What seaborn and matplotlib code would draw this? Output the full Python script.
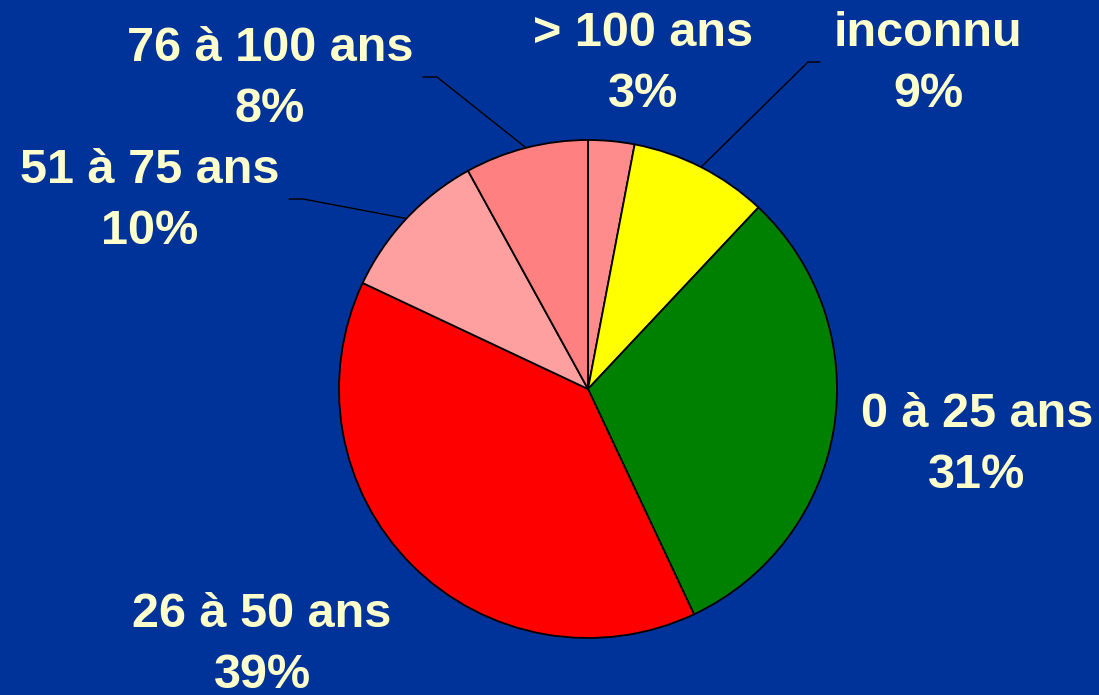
import numpy as np
import matplotlib
matplotlib.use("Agg")
import matplotlib.pyplot as plt
import seaborn as sns

# ==================================================
# DATA
# ==================================================

categories = [
    "> 100 ans",
    "inconnu",
    "0 à 25 ans",
    "26 à 50 ans",
    "51 à 75 ans",
    "76 à 100 ans",
]

shares = [3, 9, 31, 39, 10, 8]

slice_colors = [
    "#FF8C8C",
    "#FFFF00",
    "#008000",
    "#FF0000",
    "#FFA0A0",
    "#FF8080",
]

# ==================================================
# STYLE
# ==================================================

BG = "#003399"
TXT = "#FFFFCC"

sns.set_style("white")
plt.rcParams["font.family"] = ["Liberation Sans", "DejaVu Sans"]

W, H = 1099, 695
CENTER = (588, H - 389)
RADIUS = 249

fig = plt.figure(figsize=(W / 100, H / 100), dpi=100, facecolor=BG)
ax = fig.add_axes([0, 0, 1, 1])
ax.set_facecolor(BG)

wedges, _ = ax.pie(
    shares,
    colors=slice_colors,
    startangle=90,
    counterclock=False,
    center=CENTER,
    radius=RADIUS,
    wedgeprops=dict(edgecolor="black", linewidth=1.3),
)

ax.set_xlim(0, W)
ax.set_ylim(0, H)
ax.set_aspect("equal")
ax.axis("off")

# label anchors (pixel space, y from top) and leader elbows
label_pos = {
    "> 100 ans": (643, 64),
    "inconnu": (928, 64),
    "0 à 25 ans": (977, 445),
    "26 à 50 ans": (262, 645),
    "51 à 75 ans": (150, 201),
    "76 à 100 ans": (270, 79),
}

leaders = {
    "inconnu": ((820, 62), (808, 62)),
    "51 à 75 ans": ((289, 199), (303, 199)),
    "76 à 100 ans": ((423, 77), (437, 77)),
}

for cat, val, w in zip(categories, shares, wedges):
    lx, ly = label_pos[cat]
    ax.text(
        lx, H - ly,
        f"{cat}\n{val}%",
        ha="center", va="center",
        color=TXT, fontsize=35, fontweight="bold",
        linespacing=1.44,
    )
    if cat in leaders:
        mid = np.deg2rad((w.theta1 + w.theta2) / 2)
        ex = CENTER[0] + RADIUS * np.cos(mid)
        ey = CENTER[1] + RADIUS * np.sin(mid)
        (x0, y0), (x1, y1) = leaders[cat]
        ax.plot(
            [x0, x1, ex], [H - y0, H - y1, ey],
            color="black", linewidth=1.0, zorder=0.5,
        )

fig.savefig("out.png", dpi=100, facecolor=BG)
